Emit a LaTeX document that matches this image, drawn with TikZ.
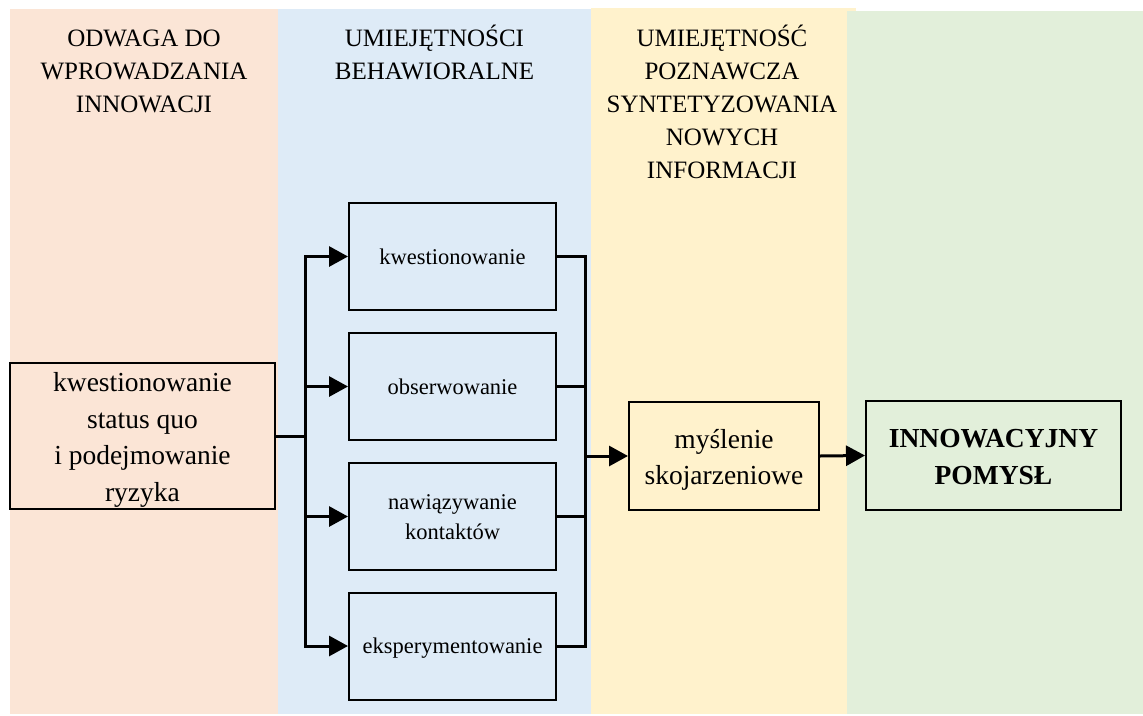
\documentclass[tikz,border=0pt]{standalone}
\usepackage{fontspec}
\setmainfont{Liberation Serif}
\usetikzlibrary{arrows.meta}

\definecolor{colPeach}{HTML}{FBE5D6}
\definecolor{colBlue}{HTML}{DEEBF7}
\definecolor{colYellow}{HTML}{FFF2CC}
\definecolor{colGreen}{HTML}{E2EFDA}

% struts that fix where the lines of a boxed text sit
\newcommand\topgap[1]{\rule{0pt}{#1}}
\newcommand\botgap{\rule[-6pt]{0pt}{6pt}}

\begin{document}
\begin{tikzpicture}[x=1pt,y=-1pt,
  header/.style={anchor=north, align=center, inner sep=0pt,
    font=\fontsize{25}{33}\selectfont},
  bigbox/.style={draw, line width=2pt, align=center, inner sep=0pt,
    font=\fontsize{27.5}{36.5}\selectfont},
  smallbox/.style={draw, line width=2pt, inner sep=0pt, align=center,
    minimum width=207pt, minimum height=107pt,
    font=\fontsize{22.5}{30}\selectfont},
  conn/.style={line width=3pt},
  arr/.style={conn, -{Triangle[length=19pt,width=20pt]}}
]
\useasboundingbox (0,0) rectangle (1143,715);

% column backgrounds
\fill[colPeach]  (10,9)   rectangle (278,714);
\fill[colBlue]   (278,9)  rectangle (591,714);
\fill[colYellow] (591,8)  rectangle (856,714);
\fill[colGreen]  (847,11) rectangle (1143,714);

% column headings
\node[header] (h1) at (144,22.5)
  {\topgap{24pt}ODWAGA DO\\WPROWADZANIA\\INNOWACJI};
\node[header] (h2) at (434.5,22.5)
  {\topgap{24pt}UMIEJĘTNOŚCI\\BEHAWIORALNE};
\node[header] (h3) at (722,22.5)
  {\topgap{24pt}UMIEJĘTNOŚĆ\\POZNAWCZA\\SYNTETYZOWANIA\\NOWYCH\\INFORMACJI};

% boxes
\node[bigbox, minimum width=265pt, minimum height=146pt] (start) at (142.5,436)
  {\topgap{27pt}kwestionowanie\\status quo\\i podejmowanie\\ryzyka\botgap};

\node[smallbox] (q) at (452.5,256.5) {\topgap{21pt}kwestionowanie\botgap};
\node[smallbox] (o) at (452.5,386.5) {\topgap{21pt}obserwowanie\botgap};
\node[smallbox] (n) at (452.5,516.5)
  {\topgap{21pt}nawiązywanie\\kontaktów\botgap};
\node[smallbox] (e) at (452.5,646) {\topgap{21pt}eksperymentowanie\botgap};

\node[bigbox, minimum width=190pt, minimum height=108pt] (m) at (724,456)
  {\topgap{27pt}myślenie\\skojarzeniowe\botgap};
\node[bigbox, minimum width=255pt, minimum height=109pt, font=\fontsize{27.5}{36.5}\selectfont\bfseries]
  (idea) at (993.5,455.5)
  {\topgap{27pt}INNOWACYJNY\\POMYSŁ\botgap};

% branch points of the two buses
\coordinate (busL) at (305,436);
\coordinate (busR) at (585,456);

% connectors
\draw[conn] (start.east) -- (busL);
\foreach \b in {q,o,n,e} {
  \draw[arr] (busL) |- (\b.west);
  \draw[conn] (\b.east) -| (busR);
}
\draw[arr] (busR) -- (m.west);
\draw[arr] (m.east) -- (idea.west);
\end{tikzpicture}
\end{document}
